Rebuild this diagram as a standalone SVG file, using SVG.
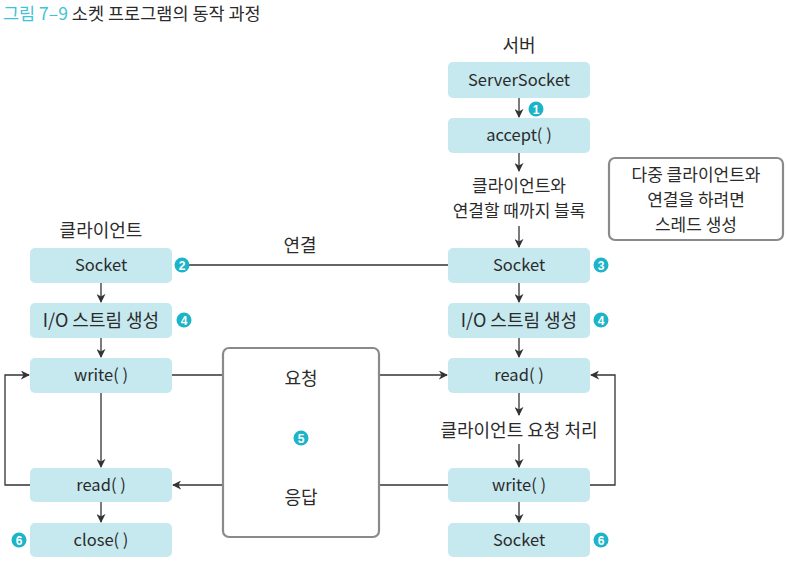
<svg xmlns="http://www.w3.org/2000/svg" width="787" height="574" viewBox="0 0 787 574">
<style>
text{font-family:"Noto Sans CJK KR","Liberation Sans",sans-serif;fill:#2b2b2b;font-size:16.5px;text-anchor:middle;}
.ko{font-size:18px;}
.ml{font-size:17px;}
.box{fill:#c6e8ef;}
.ln{stroke:#333;stroke-width:1.3;fill:none;}
.gb{fill:#fff;stroke:#8a8a8a;stroke-width:2.2;}
.bd circle{fill:#1cb4c9;}
.bd text{fill:#fff;font-size:12px;font-weight:bold;font-family:"Liberation Sans",sans-serif;}
.title{text-anchor:start;font-size:17.5px;}
</style>
<defs>
<marker id="ar" viewBox="0 0 10 10" refX="9" refY="5" markerWidth="9" markerHeight="9" markerUnits="userSpaceOnUse" orient="auto">
<path d="M0,0 L10,5 L0,10 L3,5 Z" fill="#333"/>
</marker>
</defs>
<text class="title" x="3" y="20"><tspan fill="#3fc3d6">그림 7–9</tspan> 소켓 프로그램의 동작 과정</text>
<text class="ko" x="519" y="52">서버</text>
<text class="ko" x="101" y="237">클라이언트</text>
<g id="connectors">
<line class="ln" x1="519" y1="98" x2="519" y2="117" marker-end="url(#ar)"/>
<line class="ln" x1="519" y1="153" x2="519" y2="171" marker-end="url(#ar)"/>
<line class="ln" x1="519" y1="226" x2="519" y2="247" marker-end="url(#ar)"/>
<line class="ln" x1="189" y1="265" x2="448" y2="265"/>
<line class="ln" x1="101" y1="283" x2="101" y2="302" marker-end="url(#ar)"/>
<line class="ln" x1="101" y1="338" x2="101" y2="357" marker-end="url(#ar)"/>
<line class="ln" x1="101" y1="393" x2="101" y2="467" marker-end="url(#ar)"/>
<line class="ln" x1="101" y1="502" x2="101" y2="522" marker-end="url(#ar)"/>
<line class="ln" x1="519" y1="283" x2="519" y2="302" marker-end="url(#ar)"/>
<line class="ln" x1="519" y1="338" x2="519" y2="357" marker-end="url(#ar)"/>
<line class="ln" x1="519" y1="393" x2="519" y2="415" marker-end="url(#ar)"/>
<line class="ln" x1="519" y1="444" x2="519" y2="467" marker-end="url(#ar)"/>
<line class="ln" x1="519" y1="502" x2="519" y2="522" marker-end="url(#ar)"/>
<line class="ln" x1="172" y1="375" x2="223" y2="375"/>
<line class="ln" x1="379" y1="375" x2="447" y2="375" marker-end="url(#ar)"/>
<line class="ln" x1="448" y1="485" x2="379" y2="485"/>
<line class="ln" x1="223" y1="485" x2="173" y2="485" marker-end="url(#ar)"/>
<polyline class="ln" points="30,485 5,485 5,375 29,375" marker-end="url(#ar)"/>
<polyline class="ln" points="590,485 615,485 615,375 591,375" marker-end="url(#ar)"/>
</g>
<text class="ko" x="300" y="252">연결</text>
<text class="ml" x="519" y="192">클라이언트와</text>
<text class="ml" x="519" y="217">연결할 때까지 블록</text>
<text class="ko" x="519" y="437">클라이언트 요청 처리</text>
<g id="n-serversocket"><rect class="box" x="448" y="62" width="142" height="36" rx="5"/><text x="519" y="86">ServerSocket</text></g>
<g id="n-accept"><rect class="box" x="448" y="118" width="142" height="35" rx="5"/><text x="519" y="141">accept( )</text></g>
<g id="n-multi"><rect class="gb" x="609" y="158" width="174" height="82" rx="6"/><text class="ml" x="696" y="181">다중 클라이언트와</text><text class="ml" x="696" y="206">연결을 하려면</text><text class="ml" x="696" y="231">스레드 생성</text></g>
<g id="n-csocket"><rect class="box" x="30" y="248" width="142" height="35" rx="5"/><text x="101" y="271">Socket</text></g>
<g id="n-cio"><rect class="box" x="30" y="303" width="142" height="35" rx="5"/><text class="ko" x="101" y="327">I/O 스트림 생성</text></g>
<g id="n-cwrite"><rect class="box" x="30" y="358" width="142" height="35" rx="5"/><text x="101" y="381">write( )</text></g>
<g id="n-cread"><rect class="box" x="30" y="468" width="142" height="34" rx="5"/><text x="101" y="491">read( )</text></g>
<g id="n-cclose"><rect class="box" x="30" y="523" width="142" height="34" rx="5"/><text x="101" y="546">close( )</text></g>
<g id="n-ssocket"><rect class="box" x="448" y="248" width="142" height="35" rx="5"/><text x="519" y="271">Socket</text></g>
<g id="n-sio"><rect class="box" x="448" y="303" width="142" height="35" rx="5"/><text class="ko" x="519" y="327">I/O 스트림 생성</text></g>
<g id="n-sread"><rect class="box" x="448" y="358" width="142" height="35" rx="5"/><text x="519" y="381">read( )</text></g>
<g id="n-swrite"><rect class="box" x="448" y="468" width="142" height="34" rx="5"/><text x="519" y="491">write( )</text></g>
<g id="n-ssocket2"><rect class="box" x="448" y="523" width="142" height="34" rx="5"/><text x="519" y="546">Socket</text></g>
<g id="n-middle"><rect class="gb" x="223" y="348" width="156" height="189" rx="6"/><text class="ko" x="301" y="385">요청</text><text class="ko" x="301" y="504">응답</text></g>
<g class="bd" id="badges">
<g><circle cx="536" cy="109" r="7.5"/><text x="536" y="113.5">1</text></g>
<g><circle cx="182" cy="265" r="7.5"/><text x="182" y="269.5">2</text></g>
<g><circle cx="601" cy="265" r="7.5"/><text x="601" y="269.5">3</text></g>
<g><circle cx="184" cy="320" r="7.5"/><text x="184" y="324.5">4</text></g>
<g><circle cx="601" cy="320" r="7.5"/><text x="601" y="324.5">4</text></g>
<g><circle cx="301" cy="438" r="7.5"/><text x="301" y="442.5">5</text></g>
<g><circle cx="19" cy="540" r="7.5"/><text x="19" y="544.5">6</text></g>
<g><circle cx="601" cy="540" r="7.5"/><text x="601" y="544.5">6</text></g>
</g>
</svg>
